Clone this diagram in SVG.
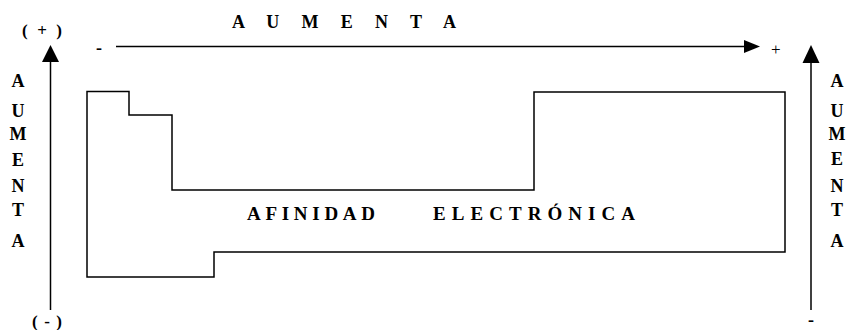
<svg xmlns="http://www.w3.org/2000/svg" width="854" height="330" viewBox="0 0 854 330">
<style>
.t{font-family:"Liberation Serif","Times New Roman",serif;font-weight:bold;font-size:18px;fill:#000}
.b{font-family:"Liberation Serif","Times New Roman",serif;font-weight:bold;font-size:19px;fill:#000}
.s{font-family:"Liberation Serif","Times New Roman",serif;font-weight:bold;font-size:17px;fill:#000}
.r{font-family:"Liberation Serif","Times New Roman",serif;font-size:17px;fill:#000}
.ln{stroke:#000;stroke-width:1.5;fill:none}
.hd{fill:#000}
</style>
<rect width="854" height="330" fill="#fff"/>
<g id="table">
<path class="ln" d="M87,91.5 H129 V115 H172 V190 H534 V92 H785 V252 H214 V277 H87 Z"/>
<text class="b" x="247" y="220" textLength="128" lengthAdjust="spacing">AFINIDAD</text>
<text class="b" x="433" y="220" textLength="202" lengthAdjust="spacing">ELECTRÓNICA</text>
</g>
<g id="connectors">
<line class="ln" x1="116" y1="46.5" x2="746" y2="46.5"/>
<polygon class="hd" points="744,40 760,46.5 744,53"/>
<line class="ln" x1="50.5" y1="60" x2="50.5" y2="310"/>
<polygon class="hd" points="50.5,45 42,62 59,62"/>
<line class="ln" x1="811" y1="60" x2="811" y2="310"/>
<polygon class="hd" points="811,45 802.5,63 819.5,63"/>
</g>
<g id="top-label">
<text class="t" x="232" y="28" textLength="224" lengthAdjust="spacing">A U M E N T A</text>
<text class="t" x="96" y="54">-</text>
<text class="r" x="771" y="55">+</text>
</g>
<g id="left-label">
<text class="s" x="22" y="36" textLength="40" lengthAdjust="spacing">( + )</text>
<text class="s" x="32" y="327" textLength="30" lengthAdjust="spacing">( - )</text>
<g class="t" text-anchor="middle">
<text x="18" y="87">A</text>
<text x="18" y="117">U</text>
<text x="18" y="140">M</text>
<text x="18" y="166">E</text>
<text x="18" y="192">N</text>
<text x="18" y="216">T</text>
<text x="18" y="247">A</text>
</g>
</g>
<g id="right-label">
<text class="t" x="811" y="326" text-anchor="middle">-</text>
<g class="t" text-anchor="middle">
<text x="837" y="87">A</text>
<text x="837" y="117">U</text>
<text x="837" y="140">M</text>
<text x="837" y="165">E</text>
<text x="837" y="192">N</text>
<text x="837" y="216">T</text>
<text x="837" y="247">A</text>
</g>
</g>
</svg>
